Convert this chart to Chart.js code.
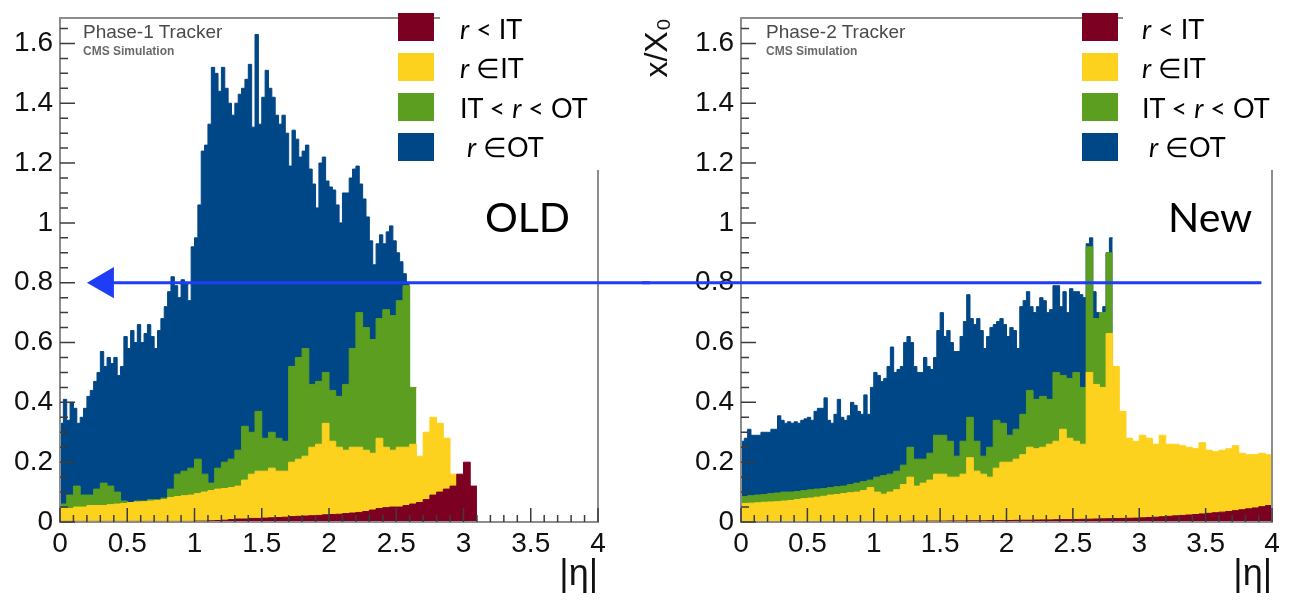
<!DOCTYPE html>
<html>
<head>
<meta charset="utf-8">
<script src="https://cdn.jsdelivr.net/npm/chart.js@4.4.1/dist/chart.umd.min.js"></script>
<style>
  html, body { margin: 0; padding: 0; background: #fff; }
  #page { position: relative; width: 1290px; height: 600px; overflow: hidden; background: #fff; }
  .chartBox { position: absolute; top: 0; height: 600px; }
  #oldBox { left: 0; width: 650px; }
  #newBox { left: 642px; width: 648px; }
  .legendBg { position: absolute; top: 0; height: 170px; background: #fff; }
  .swatch { position: absolute; width: 36px; height: 28px; }
  .legText { position: absolute; font-family: Lato, 'Open Sans', sans-serif; font-size: 27px; line-height: 27px; color: #000; white-space: nowrap; }
  .tag { position: absolute; top: 196px; font-family: Lato, 'Open Sans', sans-serif; font-size: 41px; line-height: 41px; color: #000; }
  .tracker { position: absolute; top: 22px; font-family: 'Liberation Sans', Arial, sans-serif; font-size: 19px; line-height: 19px; color: #4a4a4a; }
  .cms { position: absolute; top: 45px; font-family: 'Liberation Sans', Arial, sans-serif; font-size: 12px; line-height: 12px; font-weight: bold; color: #6a6a6a; }
</style>
</head>
<body>
<div id="page">
  <div class="chartBox" id="oldBox"><canvas id="oldChart"></canvas></div>
  <div class="chartBox" id="newBox"><canvas id="newChart"></canvas></div>
  <div class="tracker" style="left:83px">Phase-1 Tracker</div>
  <div class="cms" style="left:83px">CMS Simulation</div>
  <div class="tracker" style="left:766px">Phase-2 Tracker</div>
  <div class="cms" style="left:766px">CMS Simulation</div>
  <div class="tag" style="left:485px">OLD</div>
  <div class="tag" style="left:1168px">New</div>
</div>
<script>
// axis ticks
const etaMajorTicks = [0, 0.5, 1, 1.5, 2, 2.5, 3, 3.5, 4];
const x0MajorTicks = [0, 0.2, 0.4, 0.6, 0.8, 1, 1.2, 1.4, 1.6];
const etaMinorTicks = Array.from({ length: 41 }, (_, i) => i * 0.1);
const yMinorTicks = Array.from({ length: 34 }, (_, i) => i * 0.05);

// layers, bottom to top
const layerNames = ['r < IT', 'r ∈IT', 'IT < r < OT', 'r ∈OT'];
const legendMarkup = ['<i>r</i> &lt; IT', '<i>r</i> ∈IT', 'IT &lt; <i>r</i> &lt; OT', '&nbsp;<i>r</i> ∈OT'];
const layerColors = ['#7c0022', '#fdd21f', '#5b9e20', '#004787'];

// histogram bins start at 0 in |eta|
const blueBinWidth = 0.025;
const layerBinWidth = 0.05;

// x/X0 reached by the top of each layer, Phase-1 (OLD)
const oldRedTop = [
  0.002, 0.002, 0.002, 0.002, 0.002, 0.002, 0.002, 0.002, 0.002, 0.002,
  0.002, 0.002, 0.002, 0.002, 0.002, 0.002, 0.002, 0.002, 0.002, 0.002,
  0.003, 0.003, 0.004, 0.005, 0.006, 0.008, 0.01, 0.01, 0.012, 0.012,
  0.013, 0.014, 0.015, 0.016, 0.018, 0.019, 0.02, 0.021, 0.022, 0.024,
  0.025, 0.026, 0.028, 0.03, 0.032, 0.035, 0.04, 0.045, 0.048, 0.05,
  0.05, 0.055, 0.06, 0.065, 0.075, 0.09, 0.10, 0.11, 0.12, 0.16,
  0.20, 0.12
];
const oldYellowTop = [
  0.045, 0.045, 0.05, 0.05, 0.055, 0.055, 0.055, 0.058, 0.06, 0.062,
  0.065, 0.067, 0.068, 0.07, 0.072, 0.075, 0.082, 0.085, 0.088, 0.09,
  0.095, 0.10, 0.105, 0.11, 0.112, 0.115, 0.12, 0.14, 0.16, 0.17,
  0.17, 0.18, 0.17, 0.17, 0.20, 0.21, 0.22, 0.25, 0.26, 0.33,
  0.27, 0.25, 0.24, 0.25, 0.25, 0.24, 0.23, 0.28, 0.25, 0.24,
  0.25, 0.25, 0.26, 0.22, 0.30, 0.35, 0.33, 0.28, 0.16, 0.14,
  0.10, 0.05
];
const oldGreenTop = [
  0.06, 0.09, 0.12, 0.09, 0.09, 0.11, 0.13, 0.12, 0.10, 0.07,
  0.065, 0.07, 0.07, 0.075, 0.075, 0.08, 0.11, 0.16, 0.17, 0.18,
  0.21, 0.16, 0.13, 0.18, 0.20, 0.21, 0.24, 0.32, 0.30, 0.37,
  0.28, 0.30, 0.28, 0.27, 0.52, 0.55, 0.58, 0.46, 0.47, 0.50,
  0.44, 0.42, 0.46, 0.58, 0.70, 0.65, 0.61, 0.68, 0.71, 0.69,
  0.74, 0.79, 0.45
];
const oldBlueTop = [
  0.33, 0.41, 0.34, 0.40, 0.38, 0.33, 0.35, 0.38, 0.42, 0.44,
  0.47, 0.50, 0.57, 0.52, 0.55, 0.53, 0.55, 0.49, 0.52, 0.62,
  0.58, 0.64, 0.60, 0.66, 0.60, 0.63, 0.66, 0.62, 0.58, 0.64,
  0.68, 0.72, 0.77, 0.82, 0.79, 0.75, 0.81, 0.80, 0.74, 0.92,
  0.95, 1.06, 1.24, 1.26, 1.33, 1.52, 1.50, 1.44, 1.52, 1.45,
  1.40, 1.36, 1.40, 1.43, 1.45, 1.48, 1.53, 1.32, 1.63, 1.33,
  1.42, 1.51, 1.45, 1.42, 1.36, 1.33, 1.36, 1.30, 1.19, 1.31,
  1.28, 1.22, 1.24, 1.26, 1.18, 1.13, 1.05, 1.20, 1.22, 1.14,
  1.12, 1.11, 1.06, 1.00, 1.10, 1.10, 1.15, 1.18, 1.19, 1.13,
  1.08, 1.02, 0.94, 0.86, 0.93, 0.96, 0.93, 0.97, 0.99, 0.94,
  0.90, 0.87, 0.83, 0.80
];

// x/X0 reached by the top of each layer, Phase-2 (New)
const newRedTop = [
  0.001, 0.001, 0.001, 0.001, 0.001, 0.001, 0.001, 0.001, 0.001, 0.001,
  0.001, 0.001, 0.001, 0.001, 0.001, 0.001, 0.001, 0.001, 0.001, 0.001,
  0.0015, 0.0015, 0.002, 0.002, 0.002, 0.0025, 0.0025, 0.0025, 0.003, 0.003,
  0.003, 0.0035, 0.0035, 0.0035, 0.004, 0.004, 0.004, 0.0045, 0.0045, 0.0045,
  0.005, 0.0055, 0.006, 0.006, 0.0065, 0.007, 0.007, 0.0075, 0.008, 0.008,
  0.0085, 0.009, 0.0095, 0.010, 0.0105, 0.011, 0.0115, 0.012, 0.0125, 0.013,
  0.014, 0.015, 0.016, 0.0175, 0.019, 0.0205, 0.022, 0.0235, 0.025, 0.027,
  0.029, 0.031, 0.033, 0.035, 0.038, 0.041, 0.044, 0.047, 0.051, 0.055
];
const newYellowTop = [
  0.062, 0.063, 0.064, 0.066, 0.067, 0.068, 0.07, 0.072, 0.075, 0.078,
  0.08, 0.083, 0.086, 0.09, 0.092, 0.095, 0.098, 0.10, 0.105, 0.115,
  0.10, 0.093, 0.10, 0.108, 0.125, 0.15, 0.12, 0.13, 0.14, 0.16,
  0.16, 0.15, 0.15, 0.16, 0.215, 0.17, 0.16, 0.15, 0.18, 0.20,
  0.20, 0.21, 0.225, 0.25, 0.245, 0.25, 0.26, 0.27, 0.31, 0.28,
  0.27, 0.26, 0.50, 0.46, 0.45, 0.63, 0.52, 0.37, 0.28, 0.27,
  0.29, 0.28, 0.26, 0.29, 0.26, 0.26, 0.255, 0.25, 0.245, 0.265,
  0.24, 0.235, 0.24, 0.245, 0.255, 0.23, 0.225, 0.225, 0.23, 0.225
];
const newGreenTop = [
  0.085, 0.088, 0.09, 0.092, 0.095, 0.097, 0.10, 0.10, 0.102, 0.105,
  0.108, 0.11, 0.112, 0.115, 0.118, 0.12, 0.125, 0.13, 0.135, 0.14,
  0.15, 0.155, 0.16, 0.17, 0.19, 0.25, 0.21, 0.21, 0.23, 0.29,
  0.29, 0.27, 0.22, 0.27, 0.35, 0.27, 0.22, 0.25, 0.34, 0.33,
  0.29, 0.31, 0.36, 0.44, 0.41, 0.42, 0.41, 0.50, 0.49, 0.48,
  0.50, 0.45, 0.92, 0.68, 0.70, 0.90
];
const newBlueTop = [
  0.27, 0.28, 0.31, 0.29, 0.29, 0.29, 0.30, 0.30, 0.30, 0.31,
  0.31, 0.355, 0.34, 0.33, 0.335, 0.33, 0.335, 0.33, 0.34, 0.345,
  0.35, 0.34, 0.37, 0.38, 0.38, 0.415, 0.34, 0.33, 0.36, 0.41,
  0.35, 0.34, 0.355, 0.40, 0.39, 0.37, 0.36, 0.425, 0.36, 0.45,
  0.50, 0.49, 0.47, 0.48, 0.52, 0.585, 0.50, 0.51, 0.52, 0.60,
  0.62, 0.60, 0.52, 0.50, 0.50, 0.55, 0.52, 0.51, 0.55, 0.64,
  0.70, 0.62, 0.64, 0.60, 0.57, 0.57, 0.62, 0.67, 0.76, 0.68,
  0.66, 0.68, 0.64, 0.58, 0.62, 0.65, 0.66, 0.67, 0.68, 0.66,
  0.62, 0.65, 0.64, 0.58, 0.72, 0.74, 0.77, 0.72, 0.70, 0.72,
  0.75, 0.74, 0.70, 0.71, 0.79, 0.79, 0.72, 0.77, 0.70, 0.78,
  0.77, 0.77, 0.76, 0.75, 0.93, 0.95, 0.77, 0.70, 0.68, 0.72,
  0.90, 0.95
];

// the 0.8 reference arrow, |eta| range drawn in each panel
const arrowLevel = 0.8;
const arrowColor = '#1f3cf6';
const oldArrowEta = [0.334, 4.5];
const newArrowEta = [-0.8, 3.92];

Chart.defaults.font.family = "'Liberation Sans', Arial, sans-serif";
Chart.defaults.color = '#111';

function steps(values, width) {
  const pts = values.map((v, i) => ({ x: i * width, y: v }));
  pts.push({ x: values.length * width, y: values[values.length - 1] });
  return pts;
}

// ROOT style frame and inward tick marks, drawn over the histograms
const frameTicks = {
  id: 'frameTicks',
  afterDatasetDraw(chart, args) {
    if (args.index !== 1) return;
    const { ctx, chartArea: a, scales: { x, y } } = chart;
    ctx.save();
    ctx.lineWidth = 2;
    ctx.strokeStyle = '#8d8d8d';
    ctx.strokeRect(a.left, a.top, a.right - a.left, a.bottom - a.top);
    ctx.strokeStyle = '#3c3c3c';
    ctx.lineWidth = 1.5;
    ctx.beginPath();
    yMinorTicks.forEach(v => {
      const p = y.getPixelForValue(v);
      ctx.moveTo(a.left, p); ctx.lineTo(a.left + 8, p);
    });
    x0MajorTicks.forEach(v => {
      const p = y.getPixelForValue(v);
      ctx.moveTo(a.left, p); ctx.lineTo(a.left + 15, p);
    });
    etaMinorTicks.forEach(v => {
      const p = x.getPixelForValue(v);
      ctx.moveTo(p, a.bottom); ctx.lineTo(p, a.bottom - 7);
    });
    etaMajorTicks.forEach(v => {
      const p = x.getPixelForValue(v);
      ctx.moveTo(p, a.bottom); ctx.lineTo(p, a.bottom - 14);
    });
    ctx.stroke();
    ctx.restore();
  }
};

function makeChart(id, layers, arrowEta, yAxisWidth, padRight, showYTitle) {
  const hist = (i, values, width) => ({
    label: layerNames[i],
    data: steps(values, width),
    stepped: true,
    fill: 'origin',
    backgroundColor: layerColors[i],
    borderColor: layerColors[i],
    borderWidth: 1,
    pointRadius: 0
  });
  return new Chart(document.getElementById(id), {
    type: 'line',
    data: {
      datasets: [
        {
          label: 'x/X0 = 0.8',
          data: arrowEta.map(e => ({ x: e, y: arrowLevel })),
          borderColor: arrowColor,
          borderWidth: 3,
          clip: false,
          fill: false,
          pointStyle: 'triangle',
          pointRotation: -90,
          pointRadius: [15, 0],
          pointBackgroundColor: arrowColor,
          pointBorderColor: arrowColor
        },
        hist(0, layers[0], layerBinWidth),
        hist(1, layers[1], layerBinWidth),
        hist(2, layers[2], layerBinWidth),
        hist(3, layers[3], blueBinWidth)
      ]
    },
    options: {
      responsive: true,
      maintainAspectRatio: false,
      animation: false,
      events: [],
      layout: { padding: { top: 7, right: padRight, left: 0, bottom: 0 } },
      plugins: { legend: { display: false }, tooltip: { enabled: false } },
      scales: {
        x: {
          type: 'linear',
          min: 0,
          max: 4,
          grid: { display: false, drawTicks: false },
          border: { display: false },
          afterBuildTicks: s => { s.ticks = etaMajorTicks.map(v => ({ value: v })); },
          afterFit: s => { s.height = 78; s.paddingLeft = 0; s.paddingRight = 0; },
          ticks: { padding: 5, maxRotation: 0, autoSkip: false, font: { size: 28 }, callback: v => String(v) },
          title: { display: true, text: '|η|', align: 'end', font: { size: 36, lineHeight: 1 }, padding: { top: 0, bottom: 7 } }
        },
        y: {
          min: 0,
          max: 1.685,
          grid: { display: false, drawTicks: false },
          border: { display: false },
          afterBuildTicks: s => { s.ticks = x0MajorTicks.map(v => ({ value: v })); },
          afterFit: s => { s.width = yAxisWidth; s.paddingTop = 0; s.paddingBottom = 0; },
          ticks: { padding: 7, autoSkip: false, font: { size: 28 }, callback: v => String(v) },
          title: { display: showYTitle, text: 'x/X₀', align: 'end', font: { size: 32, lineHeight: 1 }, padding: 0 }
        }
      }
    },
    plugins: [frameTicks]
  });
}

makeChart('oldChart', [oldRedTop, oldYellowTop, oldGreenTop, oldBlueTop], oldArrowEta, 60, 52, false);
makeChart('newChart', [newRedTop, newYellowTop, newGreenTop, newBlueTop], newArrowEta, 99, 10, true);

// legends pasted over the top right of each panel
function addLegend(swatchLeft, textLeft, bgLeft, bgWidth) {
  const page = document.getElementById('page');
  const bg = document.createElement('div');
  bg.className = 'legendBg';
  bg.style.left = bgLeft + 'px';
  bg.style.width = bgWidth + 'px';
  page.appendChild(bg);
  layerColors.forEach((c, i) => {
    const sw = document.createElement('div');
    sw.className = 'swatch';
    sw.style.left = swatchLeft + 'px';
    sw.style.top = (13 + 40 * i) + 'px';
    sw.style.background = c;
    page.appendChild(sw);
    const t = document.createElement('div');
    t.className = 'legText';
    t.style.left = textLeft + 'px';
    t.style.top = (15 + 39.3 * i) + 'px';
    t.innerHTML = legendMarkup[i];
    page.appendChild(t);
  });
}
addLegend(398, 460, 440, 203);
addLegend(1082, 1142, 1123, 167);
</script>
</body>
</html>
